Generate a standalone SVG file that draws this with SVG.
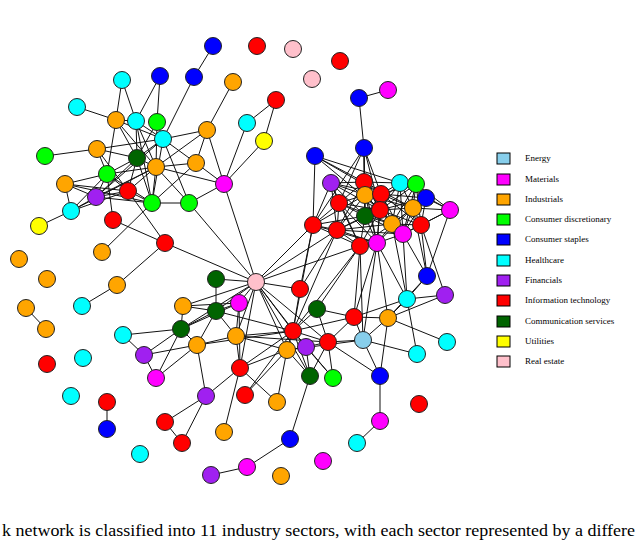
<svg xmlns="http://www.w3.org/2000/svg" width="635" height="545" viewBox="0 0 635 545">
<style>
circle{stroke:#222;stroke-width:1}
.en{fill:#87CEEB}.ma{fill:#FF00FF}.in{fill:#FFA500}.cd{fill:#00FF00}.cs{fill:#0000FF}.hc{fill:#00FFFF}.fi{fill:#A020F0}.it{fill:#FF0000}.co{fill:#006400}.ut{fill:#FFFF00}.re{fill:#FFC0CB}
#edges line{stroke:#111;stroke-width:1}
.lg rect{stroke:#000;stroke-width:1}
.lg text{font-family:"Liberation Serif",serif;font-size:9px;fill:#000}
.cap{font-family:"Liberation Serif",serif;font-size:16px;fill:#000}
</style>
<rect width="635" height="545" fill="#fff"/>
<g id="edges">
<line x1="213" y1="46" x2="194" y2="77"/><line x1="233" y1="82" x2="207" y2="130"/><line x1="276" y1="100" x2="247" y2="123"/><line x1="276" y1="100" x2="264" y2="141"/><line x1="247" y1="123" x2="224" y2="184"/><line x1="264" y1="141" x2="224" y2="184"/><line x1="207" y1="130" x2="224" y2="184"/><line x1="388" y1="90" x2="359" y2="98"/><line x1="359" y1="98" x2="364" y2="148"/><line x1="160" y1="76" x2="136" y2="121"/><line x1="160" y1="76" x2="157" y2="122"/><line x1="194" y1="77" x2="163" y2="139"/><line x1="122" y1="80" x2="116" y2="120"/><line x1="122" y1="80" x2="136" y2="121"/><line x1="77" y1="107" x2="116" y2="120"/><line x1="45" y1="156" x2="97" y2="149"/><line x1="39" y1="226" x2="71" y2="211"/>
<line x1="116" y1="120" x2="136" y2="121"/><line x1="116" y1="120" x2="137" y2="158"/><line x1="116" y1="120" x2="163" y2="139"/><line x1="116" y1="120" x2="107" y2="174"/><line x1="116" y1="120" x2="156" y2="167"/><line x1="136" y1="121" x2="163" y2="139"/><line x1="136" y1="121" x2="137" y2="158"/><line x1="136" y1="121" x2="156" y2="167"/><line x1="136" y1="121" x2="152" y2="203"/><line x1="157" y1="122" x2="163" y2="139"/><line x1="157" y1="122" x2="137" y2="158"/><line x1="157" y1="122" x2="156" y2="167"/><line x1="163" y1="139" x2="137" y2="158"/><line x1="163" y1="139" x2="207" y2="130"/><line x1="163" y1="139" x2="196" y2="163"/><line x1="163" y1="139" x2="189" y2="203"/><line x1="163" y1="139" x2="152" y2="203"/><line x1="163" y1="139" x2="96" y2="197"/><line x1="97" y1="149" x2="107" y2="174"/><line x1="97" y1="149" x2="137" y2="158"/><line x1="97" y1="149" x2="128" y2="191"/><line x1="97" y1="149" x2="163" y2="139"/><line x1="137" y1="158" x2="156" y2="167"/><line x1="137" y1="158" x2="107" y2="174"/><line x1="137" y1="158" x2="96" y2="197"/><line x1="137" y1="158" x2="128" y2="191"/><line x1="137" y1="158" x2="152" y2="203"/><line x1="156" y1="167" x2="196" y2="163"/><line x1="156" y1="167" x2="107" y2="174"/><line x1="156" y1="167" x2="96" y2="197"/><line x1="156" y1="167" x2="128" y2="191"/><line x1="156" y1="167" x2="152" y2="203"/><line x1="156" y1="167" x2="189" y2="203"/><line x1="156" y1="167" x2="224" y2="184"/><line x1="196" y1="163" x2="207" y2="130"/><line x1="196" y1="163" x2="224" y2="184"/><line x1="196" y1="163" x2="152" y2="203"/><line x1="207" y1="130" x2="156" y2="167"/><line x1="107" y1="174" x2="65" y2="184"/><line x1="107" y1="174" x2="96" y2="197"/><line x1="107" y1="174" x2="71" y2="211"/><line x1="107" y1="174" x2="128" y2="191"/><line x1="107" y1="174" x2="113" y2="220"/><line x1="107" y1="174" x2="152" y2="203"/><line x1="65" y1="184" x2="96" y2="197"/><line x1="65" y1="184" x2="71" y2="211"/><line x1="65" y1="184" x2="128" y2="191"/><line x1="65" y1="184" x2="152" y2="203"/><line x1="96" y1="197" x2="71" y2="211"/><line x1="96" y1="197" x2="128" y2="191"/><line x1="96" y1="197" x2="152" y2="203"/><line x1="71" y1="211" x2="128" y2="191"/><line x1="71" y1="211" x2="156" y2="167"/><line x1="128" y1="191" x2="152" y2="203"/><line x1="128" y1="191" x2="165" y2="243"/><line x1="152" y1="203" x2="189" y2="203"/><line x1="152" y1="203" x2="102" y2="252"/><line x1="113" y1="220" x2="165" y2="243"/><line x1="189" y1="203" x2="224" y2="184"/><line x1="189" y1="203" x2="256" y2="282"/><line x1="224" y1="184" x2="256" y2="282"/><line x1="165" y1="243" x2="256" y2="282"/><line x1="165" y1="243" x2="117" y2="285"/><line x1="117" y1="285" x2="82" y2="306"/><line x1="26" y1="308" x2="46" y2="329"/><line x1="107" y1="402" x2="107" y2="429"/>
<line x1="216" y1="279" x2="256" y2="282"/><line x1="216" y1="279" x2="216" y2="311"/><line x1="183" y1="306" x2="216" y2="311"/><line x1="183" y1="306" x2="181" y2="329"/><line x1="183" y1="306" x2="239" y2="303"/><line x1="183" y1="306" x2="256" y2="282"/><line x1="181" y1="329" x2="216" y2="311"/><line x1="181" y1="329" x2="239" y2="303"/><line x1="181" y1="329" x2="123" y2="335"/><line x1="181" y1="329" x2="144" y2="355"/><line x1="181" y1="329" x2="156" y2="378"/><line x1="181" y1="329" x2="197" y2="345"/><line x1="181" y1="329" x2="256" y2="282"/><line x1="216" y1="311" x2="256" y2="282"/><line x1="216" y1="311" x2="239" y2="303"/><line x1="216" y1="311" x2="236" y2="336"/><line x1="216" y1="311" x2="197" y2="345"/><line x1="216" y1="311" x2="293" y2="331"/><line x1="239" y1="303" x2="256" y2="282"/><line x1="239" y1="303" x2="236" y2="336"/><line x1="239" y1="303" x2="240" y2="368"/><line x1="123" y1="335" x2="144" y2="355"/><line x1="144" y1="355" x2="156" y2="378"/><line x1="144" y1="355" x2="197" y2="345"/><line x1="197" y1="345" x2="156" y2="378"/><line x1="197" y1="345" x2="206" y2="396"/><line x1="197" y1="345" x2="236" y2="336"/><line x1="197" y1="345" x2="293" y2="331"/><line x1="206" y1="396" x2="165" y2="422"/><line x1="206" y1="396" x2="182" y2="443"/><line x1="165" y1="422" x2="182" y2="443"/><line x1="206" y1="396" x2="240" y2="368"/><line x1="224" y1="432" x2="240" y2="368"/><line x1="236" y1="336" x2="256" y2="282"/><line x1="236" y1="336" x2="240" y2="368"/><line x1="236" y1="336" x2="293" y2="331"/><line x1="236" y1="336" x2="287" y2="350"/><line x1="236" y1="336" x2="328" y2="342"/><line x1="240" y1="368" x2="293" y2="331"/><line x1="240" y1="368" x2="287" y2="350"/><line x1="240" y1="368" x2="256" y2="282"/><line x1="245" y1="395" x2="287" y2="350"/><line x1="245" y1="395" x2="293" y2="331"/><line x1="277" y1="402" x2="287" y2="350"/><line x1="277" y1="402" x2="240" y2="368"/><line x1="256" y1="282" x2="293" y2="331"/><line x1="256" y1="282" x2="287" y2="350"/><line x1="256" y1="282" x2="306" y2="347"/><line x1="256" y1="282" x2="328" y2="342"/><line x1="256" y1="282" x2="310" y2="376"/><line x1="256" y1="282" x2="313" y2="225"/><line x1="256" y1="282" x2="337" y2="230"/><line x1="256" y1="282" x2="360" y2="246"/><line x1="256" y1="282" x2="300" y2="289"/><line x1="300" y1="289" x2="313" y2="225"/><line x1="300" y1="289" x2="337" y2="230"/><line x1="300" y1="289" x2="293" y2="331"/><line x1="293" y1="331" x2="287" y2="350"/><line x1="293" y1="331" x2="306" y2="347"/><line x1="293" y1="331" x2="328" y2="342"/><line x1="293" y1="331" x2="310" y2="376"/><line x1="293" y1="331" x2="333" y2="378"/><line x1="293" y1="331" x2="317" y2="309"/><line x1="293" y1="331" x2="354" y2="317"/><line x1="293" y1="331" x2="360" y2="246"/><line x1="293" y1="331" x2="337" y2="230"/><line x1="293" y1="331" x2="313" y2="225"/><line x1="317" y1="309" x2="328" y2="342"/><line x1="317" y1="309" x2="354" y2="317"/><line x1="317" y1="309" x2="360" y2="246"/><line x1="287" y1="350" x2="306" y2="347"/><line x1="287" y1="350" x2="310" y2="376"/><line x1="306" y1="347" x2="328" y2="342"/><line x1="306" y1="347" x2="310" y2="376"/><line x1="306" y1="347" x2="333" y2="378"/><line x1="328" y1="342" x2="333" y2="378"/><line x1="328" y1="342" x2="310" y2="376"/><line x1="328" y1="342" x2="354" y2="317"/><line x1="328" y1="342" x2="363" y2="340"/><line x1="328" y1="342" x2="380" y2="376"/><line x1="354" y1="317" x2="388" y2="318"/><line x1="354" y1="317" x2="363" y2="340"/><line x1="354" y1="317" x2="377" y2="243"/><line x1="354" y1="317" x2="360" y2="246"/><line x1="354" y1="317" x2="407" y2="299"/><line x1="388" y1="318" x2="363" y2="340"/><line x1="388" y1="318" x2="380" y2="376"/><line x1="388" y1="318" x2="447" y2="342"/><line x1="388" y1="318" x2="407" y2="299"/><line x1="388" y1="318" x2="445" y2="295"/><line x1="388" y1="318" x2="427" y2="276"/><line x1="388" y1="318" x2="377" y2="243"/><line x1="363" y1="340" x2="380" y2="376"/><line x1="363" y1="340" x2="417" y2="354"/><line x1="363" y1="340" x2="377" y2="243"/><line x1="363" y1="340" x2="360" y2="246"/><line x1="363" y1="340" x2="287" y2="350"/><line x1="407" y1="299" x2="417" y2="354"/><line x1="407" y1="299" x2="445" y2="295"/><line x1="407" y1="299" x2="427" y2="276"/><line x1="407" y1="299" x2="377" y2="243"/><line x1="407" y1="299" x2="403" y2="234"/><line x1="392" y1="224" x2="407" y2="299"/><line x1="445" y1="295" x2="421" y2="225"/><line x1="427" y1="276" x2="421" y2="225"/><line x1="427" y1="276" x2="403" y2="234"/><line x1="427" y1="276" x2="413" y2="208"/><line x1="427" y1="276" x2="450" y2="210"/><line x1="310" y1="376" x2="290" y2="439"/><line x1="380" y1="376" x2="380" y2="421"/><line x1="380" y1="421" x2="357" y2="443"/><line x1="290" y1="439" x2="247" y2="467"/><line x1="247" y1="467" x2="211" y2="475"/>
<line x1="315" y1="156" x2="313" y2="225"/><line x1="315" y1="156" x2="364" y2="182"/><line x1="315" y1="156" x2="381" y2="194"/><line x1="315" y1="156" x2="400" y2="183"/><line x1="315" y1="156" x2="380" y2="210"/><line x1="364" y1="148" x2="364" y2="182"/><line x1="364" y1="148" x2="365" y2="195"/><line x1="364" y1="148" x2="381" y2="194"/><line x1="364" y1="148" x2="365" y2="216"/><line x1="364" y1="148" x2="339" y2="203"/><line x1="364" y1="148" x2="380" y2="210"/><line x1="364" y1="148" x2="313" y2="225"/><line x1="331" y1="183" x2="313" y2="225"/><line x1="331" y1="183" x2="339" y2="203"/><line x1="331" y1="183" x2="364" y2="182"/><line x1="331" y1="183" x2="365" y2="195"/><line x1="331" y1="183" x2="365" y2="216"/><line x1="331" y1="183" x2="381" y2="194"/><line x1="331" y1="183" x2="337" y2="230"/><line x1="364" y1="182" x2="365" y2="195"/><line x1="364" y1="182" x2="381" y2="194"/><line x1="364" y1="182" x2="339" y2="203"/><line x1="364" y1="182" x2="365" y2="216"/><line x1="364" y1="182" x2="380" y2="210"/><line x1="364" y1="182" x2="400" y2="183"/><line x1="364" y1="182" x2="413" y2="208"/><line x1="364" y1="182" x2="392" y2="224"/><line x1="364" y1="182" x2="337" y2="230"/><line x1="400" y1="183" x2="416" y2="184"/><line x1="400" y1="183" x2="381" y2="194"/><line x1="400" y1="183" x2="380" y2="210"/><line x1="400" y1="183" x2="413" y2="208"/><line x1="400" y1="183" x2="392" y2="224"/><line x1="400" y1="183" x2="365" y2="216"/><line x1="400" y1="183" x2="450" y2="210"/><line x1="416" y1="184" x2="426" y2="198"/><line x1="416" y1="184" x2="413" y2="208"/><line x1="416" y1="184" x2="380" y2="210"/><line x1="416" y1="184" x2="381" y2="194"/><line x1="416" y1="184" x2="392" y2="224"/><line x1="416" y1="184" x2="450" y2="210"/><line x1="365" y1="195" x2="381" y2="194"/><line x1="365" y1="195" x2="339" y2="203"/><line x1="365" y1="195" x2="365" y2="216"/><line x1="365" y1="195" x2="380" y2="210"/><line x1="365" y1="195" x2="337" y2="230"/><line x1="365" y1="195" x2="392" y2="224"/><line x1="365" y1="195" x2="413" y2="208"/><line x1="365" y1="195" x2="313" y2="225"/><line x1="381" y1="194" x2="380" y2="210"/><line x1="381" y1="194" x2="413" y2="208"/><line x1="381" y1="194" x2="365" y2="216"/><line x1="381" y1="194" x2="426" y2="198"/><line x1="381" y1="194" x2="392" y2="224"/><line x1="381" y1="194" x2="421" y2="225"/><line x1="426" y1="198" x2="413" y2="208"/><line x1="426" y1="198" x2="450" y2="210"/><line x1="426" y1="198" x2="421" y2="225"/><line x1="426" y1="198" x2="380" y2="210"/><line x1="426" y1="198" x2="392" y2="224"/><line x1="450" y1="210" x2="413" y2="208"/><line x1="450" y1="210" x2="421" y2="225"/><line x1="450" y1="210" x2="403" y2="234"/><line x1="339" y1="203" x2="365" y2="216"/><line x1="339" y1="203" x2="313" y2="225"/><line x1="339" y1="203" x2="337" y2="230"/><line x1="339" y1="203" x2="380" y2="210"/><line x1="339" y1="203" x2="392" y2="224"/><line x1="365" y1="216" x2="380" y2="210"/><line x1="365" y1="216" x2="337" y2="230"/><line x1="365" y1="216" x2="392" y2="224"/><line x1="365" y1="216" x2="360" y2="246"/><line x1="365" y1="216" x2="377" y2="243"/><line x1="365" y1="216" x2="403" y2="234"/><line x1="365" y1="216" x2="313" y2="225"/><line x1="380" y1="210" x2="392" y2="224"/><line x1="380" y1="210" x2="413" y2="208"/><line x1="380" y1="210" x2="403" y2="234"/><line x1="380" y1="210" x2="377" y2="243"/><line x1="380" y1="210" x2="421" y2="225"/><line x1="380" y1="210" x2="360" y2="246"/><line x1="413" y1="208" x2="392" y2="224"/><line x1="413" y1="208" x2="421" y2="225"/><line x1="413" y1="208" x2="403" y2="234"/><line x1="313" y1="225" x2="337" y2="230"/><line x1="313" y1="225" x2="360" y2="246"/><line x1="337" y1="230" x2="360" y2="246"/><line x1="337" y1="230" x2="377" y2="243"/><line x1="337" y1="230" x2="392" y2="224"/><line x1="392" y1="224" x2="421" y2="225"/><line x1="392" y1="224" x2="403" y2="234"/><line x1="392" y1="224" x2="377" y2="243"/><line x1="392" y1="224" x2="360" y2="246"/><line x1="421" y1="225" x2="403" y2="234"/><line x1="403" y1="234" x2="377" y2="243"/><line x1="360" y1="246" x2="377" y2="243"/>
<line x1="331" y1="183" x2="380" y2="210"/><line x1="364" y1="182" x2="377" y2="243"/><line x1="365" y1="195" x2="377" y2="243"/><line x1="381" y1="194" x2="403" y2="234"/><line x1="381" y1="194" x2="377" y2="243"/><line x1="339" y1="203" x2="360" y2="246"/><line x1="339" y1="203" x2="377" y2="243"/><line x1="337" y1="230" x2="403" y2="234"/><line x1="337" y1="230" x2="380" y2="210"/><line x1="400" y1="183" x2="403" y2="234"/><line x1="416" y1="184" x2="421" y2="225"/><line x1="416" y1="184" x2="403" y2="234"/><line x1="413" y1="208" x2="377" y2="243"/><line x1="426" y1="198" x2="403" y2="234"/><line x1="331" y1="183" x2="360" y2="246"/><line x1="313" y1="225" x2="377" y2="243"/>
</g>
<g id="nodes">
<g id="n1"><circle class="cs" cx="213" cy="46" r="8.5"/></g>
<g id="n2"><circle class="it" cx="257" cy="46" r="8.5"/></g>
<g id="n3"><circle class="re" cx="293" cy="49" r="8.5"/></g>
<g id="n4"><circle class="it" cx="340" cy="61" r="8.5"/></g>
<g id="n5"><circle class="re" cx="312" cy="79" r="8.5"/></g>
<g id="n6"><circle class="cs" cx="194" cy="77" r="8.5"/></g>
<g id="n7"><circle class="cs" cx="160" cy="76" r="8.5"/></g>
<g id="n8"><circle class="hc" cx="122" cy="80" r="8.5"/></g>
<g id="n9"><circle class="in" cx="233" cy="82" r="8.5"/></g>
<g id="n10"><circle class="it" cx="276" cy="100" r="8.5"/></g>
<g id="n11"><circle class="ma" cx="388" cy="90" r="8.5"/></g>
<g id="n12"><circle class="cs" cx="359" cy="98" r="8.5"/></g>
<g id="n13"><circle class="hc" cx="77" cy="107" r="8.5"/></g>
<g id="n14"><circle class="in" cx="116" cy="120" r="8.5"/></g>
<g id="n15"><circle class="hc" cx="136" cy="121" r="8.5"/></g>
<g id="n16"><circle class="cd" cx="157" cy="122" r="8.5"/></g>
<g id="n17"><circle class="hc" cx="163" cy="139" r="8.5"/></g>
<g id="n18"><circle class="in" cx="207" cy="130" r="8.5"/></g>
<g id="n19"><circle class="hc" cx="247" cy="123" r="8.5"/></g>
<g id="n20"><circle class="ut" cx="264" cy="141" r="8.5"/></g>
<g id="n21"><circle class="cd" cx="45" cy="156" r="8.5"/></g>
<g id="n22"><circle class="in" cx="97" cy="149" r="8.5"/></g>
<g id="n23"><circle class="co" cx="137" cy="158" r="8.5"/></g>
<g id="n24"><circle class="in" cx="156" cy="167" r="8.5"/></g>
<g id="n25"><circle class="in" cx="196" cy="163" r="8.5"/></g>
<g id="n26"><circle class="cd" cx="107" cy="174" r="8.5"/></g>
<g id="n27"><circle class="in" cx="65" cy="184" r="8.5"/></g>
<g id="n28"><circle class="fi" cx="96" cy="197" r="8.5"/></g>
<g id="n29"><circle class="it" cx="128" cy="191" r="8.5"/></g>
<g id="n30"><circle class="hc" cx="71" cy="211" r="8.5"/></g>
<g id="n31"><circle class="cd" cx="152" cy="203" r="8.5"/></g>
<g id="n32"><circle class="cd" cx="189" cy="203" r="8.5"/></g>
<g id="n33"><circle class="it" cx="113" cy="220" r="8.5"/></g>
<g id="n34"><circle class="ut" cx="39" cy="226" r="8.5"/></g>
<g id="n35"><circle class="ma" cx="224" cy="184" r="8.5"/></g>
<g id="n36"><circle class="it" cx="165" cy="243" r="8.5"/></g>
<g id="n37"><circle class="in" cx="102" cy="252" r="8.5"/></g>
<g id="n38"><circle class="in" cx="19" cy="259" r="8.5"/></g>
<g id="n39"><circle class="in" cx="47" cy="279" r="8.5"/></g>
<g id="n40"><circle class="in" cx="117" cy="285" r="8.5"/></g>
<g id="n41"><circle class="hc" cx="82" cy="306" r="8.5"/></g>
<g id="n42"><circle class="in" cx="26" cy="308" r="8.5"/></g>
<g id="n43"><circle class="in" cx="46" cy="329" r="8.5"/></g>
<g id="n44"><circle class="hc" cx="83" cy="358" r="8.5"/></g>
<g id="n45"><circle class="it" cx="47" cy="364" r="8.5"/></g>
<g id="n46"><circle class="hc" cx="71" cy="396" r="8.5"/></g>
<g id="n47"><circle class="it" cx="107" cy="402" r="8.5"/></g>
<g id="n48"><circle class="cs" cx="107" cy="429" r="8.5"/></g>
<g id="n49"><circle class="hc" cx="140" cy="454" r="8.5"/></g>
<g id="n50"><circle class="re" cx="256" cy="282" r="8.5"/></g>
<g id="n51"><circle class="co" cx="216" cy="279" r="8.5"/></g>
<g id="n52"><circle class="ma" cx="239" cy="303" r="8.5"/></g>
<g id="n53"><circle class="co" cx="216" cy="311" r="8.5"/></g>
<g id="n54"><circle class="in" cx="183" cy="306" r="8.5"/></g>
<g id="n55"><circle class="co" cx="181" cy="329" r="8.5"/></g>
<g id="n56"><circle class="hc" cx="123" cy="335" r="8.5"/></g>
<g id="n57"><circle class="in" cx="197" cy="345" r="8.5"/></g>
<g id="n58"><circle class="fi" cx="144" cy="355" r="8.5"/></g>
<g id="n59"><circle class="ma" cx="156" cy="378" r="8.5"/></g>
<g id="n60"><circle class="in" cx="236" cy="336" r="8.5"/></g>
<g id="n61"><circle class="it" cx="300" cy="289" r="8.5"/></g>
<g id="n62"><circle class="it" cx="293" cy="331" r="8.5"/></g>
<g id="n63"><circle class="co" cx="317" cy="309" r="8.5"/></g>
<g id="n64"><circle class="in" cx="287" cy="350" r="8.5"/></g>
<g id="n65"><circle class="fi" cx="306" cy="347" r="8.5"/></g>
<g id="n66"><circle class="it" cx="328" cy="342" r="8.5"/></g>
<g id="n67"><circle class="it" cx="354" cy="317" r="8.5"/></g>
<g id="n68"><circle class="in" cx="388" cy="318" r="8.5"/></g>
<g id="n69"><circle class="en" cx="363" cy="340" r="8.5"/></g>
<g id="n70"><circle class="it" cx="240" cy="368" r="8.5"/></g>
<g id="n71"><circle class="co" cx="310" cy="376" r="8.5"/></g>
<g id="n72"><circle class="cd" cx="333" cy="378" r="8.5"/></g>
<g id="n73"><circle class="cs" cx="380" cy="376" r="8.5"/></g>
<g id="n74"><circle class="fi" cx="206" cy="396" r="8.5"/></g>
<g id="n75"><circle class="it" cx="245" cy="395" r="8.5"/></g>
<g id="n76"><circle class="in" cx="277" cy="402" r="8.5"/></g>
<g id="n77"><circle class="it" cx="165" cy="422" r="8.5"/></g>
<g id="n78"><circle class="it" cx="182" cy="443" r="8.5"/></g>
<g id="n79"><circle class="in" cx="224" cy="432" r="8.5"/></g>
<g id="n80"><circle class="cs" cx="290" cy="439" r="8.5"/></g>
<g id="n81"><circle class="ma" cx="247" cy="467" r="8.5"/></g>
<g id="n82"><circle class="fi" cx="211" cy="475" r="8.5"/></g>
<g id="n83"><circle class="in" cx="281" cy="476" r="8.5"/></g>
<g id="n84"><circle class="ma" cx="323" cy="461" r="8.5"/></g>
<g id="n85"><circle class="hc" cx="357" cy="443" r="8.5"/></g>
<g id="n86"><circle class="ma" cx="380" cy="421" r="8.5"/></g>
<g id="n87"><circle class="it" cx="419" cy="404" r="8.5"/></g>
<g id="n88"><circle class="hc" cx="417" cy="354" r="8.5"/></g>
<g id="n89"><circle class="hc" cx="447" cy="342" r="8.5"/></g>
<g id="n90"><circle class="hc" cx="407" cy="299" r="8.5"/></g>
<g id="n91"><circle class="fi" cx="445" cy="295" r="8.5"/></g>
<g id="n92"><circle class="cs" cx="427" cy="276" r="8.5"/></g>
<g id="r1"><circle class="cs" cx="315" cy="156" r="8.5"/></g>
<g id="r2"><circle class="cs" cx="364" cy="148" r="8.5"/></g>
<g id="r3"><circle class="fi" cx="331" cy="183" r="8.5"/></g>
<g id="r4"><circle class="it" cx="364" cy="182" r="8.5"/></g>
<g id="r5"><circle class="hc" cx="400" cy="183" r="8.5"/></g>
<g id="r6"><circle class="cd" cx="416" cy="184" r="8.5"/></g>
<g id="r7"><circle class="in" cx="365" cy="195" r="8.5"/></g>
<g id="r8"><circle class="it" cx="381" cy="194" r="8.5"/></g>
<g id="r9"><circle class="cs" cx="426" cy="198" r="8.5"/></g>
<g id="r10"><circle class="ma" cx="450" cy="210" r="8.5"/></g>
<g id="r11"><circle class="it" cx="339" cy="203" r="8.5"/></g>
<g id="r12"><circle class="co" cx="365" cy="216" r="8.5"/></g>
<g id="r13"><circle class="it" cx="380" cy="210" r="8.5"/></g>
<g id="r14"><circle class="in" cx="413" cy="208" r="8.5"/></g>
<g id="r15"><circle class="it" cx="313" cy="225" r="8.5"/></g>
<g id="r16"><circle class="it" cx="337" cy="230" r="8.5"/></g>
<g id="r17"><circle class="in" cx="392" cy="224" r="8.5"/></g>
<g id="r18"><circle class="it" cx="421" cy="225" r="8.5"/></g>
<g id="r19"><circle class="ma" cx="403" cy="234" r="8.5"/></g>
<g id="r20"><circle class="it" cx="360" cy="246" r="8.5"/></g>
<g id="r21"><circle class="ma" cx="377" cy="243" r="8.5"/></g>
</g>
<g id="legend" class="lg">
<rect class="en" x="497" y="153" width="13" height="11"/><text x="525" y="161">Energy</text>
<rect class="ma" x="497" y="174" width="13" height="11"/><text x="525" y="182">Materials</text>
<rect class="in" x="497" y="194" width="13" height="11"/><text x="525" y="202">Industrials</text>
<rect class="cd" x="497" y="214" width="13" height="11"/><text x="525" y="222">Consumer discretionary</text>
<rect class="cs" x="497" y="234" width="13" height="11"/><text x="525" y="242">Consumer staples</text>
<rect class="hc" x="497" y="255" width="13" height="11"/><text x="525" y="263">Healthcare</text>
<rect class="fi" x="497" y="275" width="13" height="11"/><text x="525" y="283">Financials</text>
<rect class="it" x="497" y="295" width="13" height="11"/><text x="525" y="303">Information technology</text>
<rect class="co" x="497" y="316" width="13" height="11"/><text x="525" y="324">Communication services</text>
<rect class="ut" x="497" y="336" width="13" height="11"/><text x="525" y="344">Utilities</text>
<rect class="re" x="497" y="356" width="13" height="11"/><text x="525" y="364">Real estate</text>
</g>
<text class="cap" x="2" y="536" textLength="633" lengthAdjust="spacingAndGlyphs">k network is classified into 11 industry sectors, with each sector represented by a differe</text>
</svg>
